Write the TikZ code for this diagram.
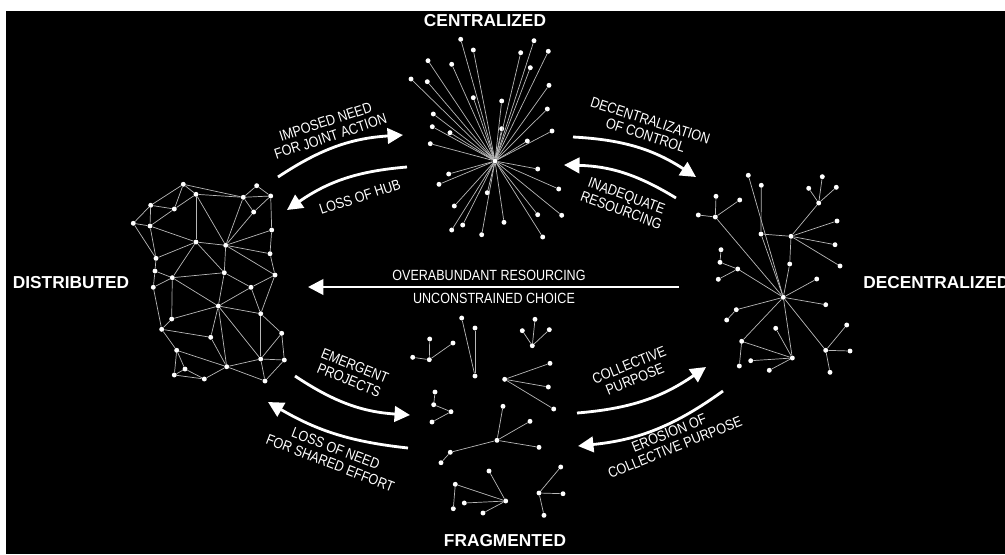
\documentclass[tikz,border=0pt]{standalone}
\usepackage{fontspec}
\setmainfont{Liberation Sans}
\newfontfamily\condfont{Liberation Sans}[FakeStretch=0.85]
\usepackage{tikz}
\usetikzlibrary{arrows.meta, positioning, calc}

\tikzset{
  netdot/.style={circle, fill=white, inner sep=0pt, minimum size=3.5pt},
  link/.style={draw=white!72!black, line width=0.5pt},
  flow/.style={white, line width=2pt, -{Triangle[length=11pt, width=11pt]}},
  phase/.style={white, inner sep=0pt, font=\fontsize{12.3}{14}\selectfont\bfseries},
  lbl/.style={white, inner sep=0pt, align=center, font=\condfont\fontsize{10.5}{11}\selectfont},
}

\begin{document}
\begin{tikzpicture}[x=0.025cm, y=-0.025cm]
    \useasboundingbox (0,0) rectangle (1005,554);
    \fill[white] (0,0) rectangle (1005,554);
    \fill[black] (6,11) rectangle (1005,554);

    % Distributed mesh
    \foreach \n/\x/\y in {1/183.3/184.3, 2/256.7/185.7, 3/196/194.3, 4/243.3/197.3, 5/270.7/196,
        6/150.7/205.3, 7/174.3/209, 8/253.7/212, 9/133.3/223.3, 10/150/226, 11/271.7/230,
        12/196/242, 13/225.7/245.3, 14/270/253.7, 15/156/258.3, 16/155/271, 17/172.3/277.7,
        18/224.3/272.7, 19/275/275, 20/153.3/287.3, 21/251/287.3, 22/218.3/306, 23/260.7/313.7,
        24/171.7/319, 25/161.7/329.3, 26/210.7/337.3, 27/281.7/333.3, 28/176.7/350.3,
        29/260.7/359, 30/284.3/360, 31/226.7/366.7, 32/185/369, 33/174.3/375, 34/204.3/379,
        35/265/381}
        \node[netdot] (d\n) at (\x,\y) {};
    \foreach \a/\b in {1/3, 1/4, 3/4, 2/4, 2/5, 4/5, 4/8, 5/8, 5/11, 1/6, 1/7, 6/7, 6/10, 6/9,
        9/10, 9/15, 7/3, 7/10, 3/12, 3/13, 4/13, 8/13, 10/12, 10/15, 12/13, 13/11, 13/14, 11/14,
        14/19, 13/18, 13/19, 12/15, 12/17, 15/16, 16/17, 17/18, 12/18, 16/20, 17/20, 18/21,
        21/19, 20/25, 17/24, 17/22, 18/22, 21/22, 21/23, 19/23, 24/22, 24/25, 25/26, 22/26,
        22/31, 22/29, 22/23, 23/27, 23/29, 27/29, 27/30, 29/30, 29/35, 31/35, 29/31, 26/31,
        25/28, 28/31, 28/33, 28/32, 32/34, 33/32, 33/34, 34/31, 30/35}
        \draw[link] (d\a) -- (d\b);

    % Centralized star
    \node[netdot] (c0) at (495,161) {};
    \foreach \n/\x/\y in {1/460.7/39.3, 2/534/40.7, 3/473.3/50, 4/520.7/52.7, 5/548.3/51.3,
        6/428/60.7, 7/451.7/64.3, 8/530.3/67.7, 9/411/79, 10/427.3/81.7, 11/549/85.3,
        12/473.3/97.7, 13/501.7/101, 14/433.3/114, 15/547.3/109, 16/432.3/126.7, 17/450/132.7,
        18/501.7/128.7, 19/552/131, 20/430.3/143.7, 21/527.3/141, 22/537.7/169, 23/448.7/174,
        24/439/184.3, 25/558.7/189, 26/487.3/192.7, 27/454.3/206, 28/537.7/214.7,
        29/561.7/215.3, 30/504/222.3, 31/462.7/225, 32/451.7/230, 33/481.7/234.7, 34/542.7/237}
        \node[netdot] (c\n) at (\x,\y) {};
    \foreach \n in {1,...,34}
        \draw[link] (c0) -- (c\n);

    % Decentralized tree
    \node[netdot] (n0) at (783.3,297.3) {};
    \foreach \n/\x/\y in {1/748.3/175.3, 2/761.3/185.3, 3/822.3/176.7, 4/808.7/188.3,
        5/836.3/187.3, 6/716/196.3, 7/739.7/200, 8/818.7/203, 9/698.3/215, 10/715.3/217,
        11/837/221, 12/761/234, 13/791/236.3, 14/835/244.7, 15/721/249.7, 16/720/262.3,
        17/737.7/269, 18/789.7/264, 19/840/266, 20/718.3/279.3, 21/816.7/279, 22/825.7/304.7,
        23/736.3/309.7, 24/726.7/320, 25/775.7/328.3, 26/846.7/325, 27/741.7/341.3,
        28/825.7/350.3, 29/850/351, 30/792.3/358, 31/750.7/360.7, 32/739.3/366,
        33/769.3/370.3, 34/830/372.3}
        \node[netdot] (n\n) at (\x,\y) {};
    \foreach \a/\b in {1/0, 2/12, 12/0, 12/13, 3/8, 4/8, 5/8, 8/13, 13/11, 13/14, 13/19, 13/18,
        18/0, 6/10, 7/10, 9/10, 10/0, 15/16, 16/17, 20/17, 17/0, 0/21, 0/22, 0/23, 23/24, 0/27,
        0/30, 0/28, 28/26, 28/29, 28/34, 27/30, 27/32, 30/25, 30/31, 30/33}
        \draw[link] (n\a) -- (n\b);

    % Fragmented clusters
    \foreach \n/\x/\y in {1/461.7/318, 2/475/328, 3/475/376, 4/535/319.3, 5/522.3/330.7,
        6/549.3/329.7, 7/532.3/345.7, 8/429.7/339, 9/453/343, 10/412.7/357.3, 11/429.3/359.7,
        12/504.7/379.3, 13/550/363.3, 14/548.3/387, 15/553.7/409, 16/435/392, 17/433.7/404.7,
        18/451/411.7, 19/432/422, 20/503/406.3, 21/530/421.3, 22/497/440.3, 23/539/447.3,
        24/450.3/452.3, 25/441/462.7, 26/489/471, 27/455.3/484.3, 28/505.7/501,
        29/464.3/503, 30/453.3/508.7, 31/483/513, 32/560.7/467, 33/539/493, 34/563/493.7,
        35/544/515.3}
        \node[netdot] (f\n) at (\x,\y) {};
    \foreach \a/\b in {1/3, 2/3, 4/7, 5/7, 6/7, 8/11, 9/11, 10/11, 12/13, 12/14, 12/15,
        16/17, 17/18, 18/19, 22/20, 22/21, 22/23, 22/24, 24/25, 28/26, 28/27, 28/29, 28/31,
        27/30, 33/32, 33/34, 33/35}
        \draw[link] (f\a) -- (f\b);

    % State names
    \node[phase] (cen) at (485,21) {CENTRALIZED};
    \node[phase] (dis) at (71,283) {DISTRIBUTED};
    \node[phase, anchor=west] (dec) at (863,283) {DECENTRALIZED};
    \node[phase] (frag) at (505,541) {FRAGMENTED};

    % Arrow ends
    \coordinate (imp-s) at (278,177);   \coordinate (imp-e) at (403,135);
    \coordinate (hub-s) at (407,167);   \coordinate (hub-e) at (287,210);
    \coordinate (dec-s) at (573,137);   \coordinate (dec-e) at (696,177);
    \coordinate (inad-s) at (676,198);  \coordinate (inad-e) at (564,165);
    \coordinate (emer-s) at (295,376);  \coordinate (emer-e) at (410,415);
    \coordinate (need-s) at (408,448);  \coordinate (need-e) at (268,402);
    \coordinate (coll-s) at (577,413);  \coordinate (coll-e) at (706,367);
    \coordinate (eros-s) at (723,391);  \coordinate (eros-e) at (578,446);
    \coordinate (mid-s) at (679,287);   \coordinate (mid-e) at (308,287);

    % Transitions
    \draw[flow] (imp-s) to[bend left=15] (imp-e);
    \draw[flow] (hub-s) to[bend right=15] (hub-e);
    \draw[flow] (dec-s) to[bend left=15] (dec-e);
    \draw[flow] (inad-s) to[bend right=15] (inad-e);
    \draw[flow] (emer-s) to[bend right=15] (emer-e);
    \draw[flow] (need-s) to[bend left=12] (need-e);
    \draw[flow] (coll-s) to[bend right=15] (coll-e);
    \draw[flow] (eros-s) to[bend left=15] (eros-e);
    \draw[flow] (mid-s) -- (mid-e);

    % Labels
    \node[lbl, rotate=18] (imp) at (328,129) {IMPOSED NEED\\FOR JOINT ACTION};
    \node[lbl, rotate=18] (hubloss) at (360,197) {LOSS OF HUB};
    \node[lbl, rotate=-18] (decen) at (648,128) {DECENTRALIZATION\\OF CONTROL};
    \node[lbl, rotate=-20] (inad) at (624,203) {INADEQUATE\\RESOURCING};
    \node[lbl, rotate=-22] (emer) at (352,373) {EMERGENT\\PROJECTS};
    \node[lbl, rotate=-21] (lossneed) at (333,456) {LOSS OF NEED\\FOR SHARED EFFORT};
    \node[lbl, rotate=22] (coll) at (632,372) {COLLECTIVE\\PURPOSE};
    \node[lbl, rotate=22] (eros) at (672,440) {EROSION OF\\COLLECTIVE PURPOSE};
    \node[lbl] (over) at (489,275) {OVERABUNDANT RESOURCING};
    \node[lbl] (unc) at (494,298) {UNCONSTRAINED CHOICE};
\end{tikzpicture}
\end{document}
